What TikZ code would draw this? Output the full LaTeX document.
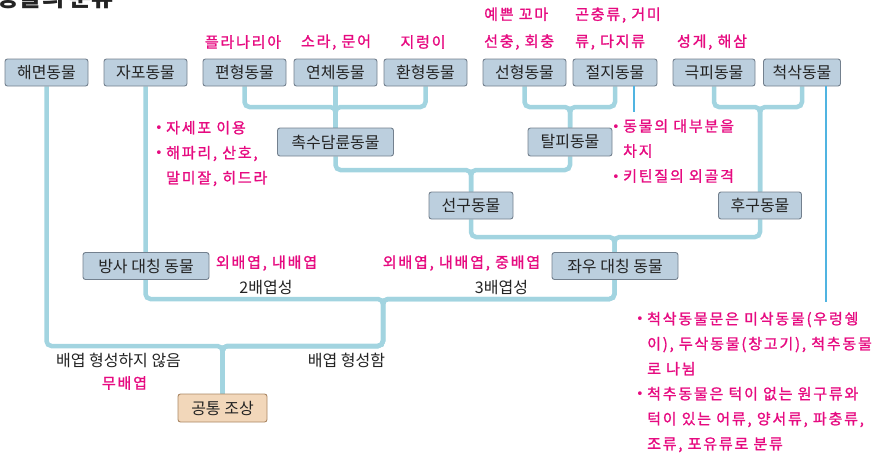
\documentclass[tikz,border=0pt]{standalone}
\usepackage{fontspec}
\setmainfont{Noto Sans CJK KR}
\newfontfamily\pinkfont[LetterSpace=12, FakeBold=1.3]{Noto Sans CJK KR}
\newfontfamily\symfont{DejaVu Sans}
\definecolor{boxfill}{RGB}{188,207,222}
\definecolor{boxline}{RGB}{115,128,142}
\definecolor{ancfill}{RGB}{242,215,186}
\definecolor{ancline}{RGB}{170,135,100}
\definecolor{treeblue}{RGB}{162,212,224}
\definecolor{leaderblue}{RGB}{80,180,225}
\definecolor{notepink}{RGB}{230,10,128}
\definecolor{darktext}{RGB}{35,35,35}
\newcommand\pbul{\makebox[11pt][l]{\symfont\fontsize{13}{13}\selectfont\raisebox{0.5pt}{•}}}
\pgfdeclarelayer{bg}
\pgfsetlayers{bg,main}
\begin{document}
\begin{tikzpicture}[x=1pt,y=-1pt,
  animal/.style={draw=boxline, fill=boxfill, rounded corners=2.5pt, line width=0.9pt,
    minimum height=27pt, inner sep=0pt, text=darktext, font=\fontsize{16}{18}\selectfont},
  ancestor/.style={animal, draw=ancline, fill=ancfill, minimum height=28pt},
  branch/.style={draw=treeblue, line width=4.5pt, rounded corners=5pt},
  leader/.style={draw=leaderblue, line width=1.1pt},
  note/.style={text=notepink, font=\pinkfont\fontsize{15}{25}\selectfont, inner sep=0pt},
  lab/.style={text=darktext, font=\fontsize{16}{18}\selectfont, inner sep=0pt}]
\useasboundingbox (0,0) rectangle (883,459);

% title (cut off at top, as in the reference)
\node[font=\fontsize{24}{24}\selectfont\bfseries, text=darktext, anchor=south east, inner sep=0pt] (title) at (114,9) {동물의 분류};

% boxes
\node[animal, minimum width=83pt] (haemyeon) at (46.5,72.5) {해면동물};
\node[animal, minimum width=83pt] (japo) at (145.5,72.5) {자포동물};
\node[animal, minimum width=83pt] (pyeonhyeong) at (244.5,72.5) {편형동물};
\node[animal, minimum width=83pt] (yeonche) at (335.5,72.5) {연체동물};
\node[animal, minimum width=83pt] (hwanhyeong) at (425.5,72.5) {환형동물};
\node[animal, minimum width=83pt] (seonhyeong) at (524.5,72.5) {선형동물};
\node[animal, minimum width=84pt] (jeolji) at (615,72.5) {절지동물};
\node[animal, minimum width=82pt] (geukpi) at (714,72.5) {극피동물};
\node[animal, minimum width=77pt] (cheoksak) at (802,72.5) {척삭동물};
\node[animal, minimum width=116pt, minimum height=28pt] (chosu) at (335.5,142) {촉수담륜동물};
\node[animal, minimum width=84pt, minimum height=28pt] (talpi) at (570,142) {탈피동물};
\node[animal, minimum width=84pt] (seongu) at (471,205.5) {선구동물};
\node[animal, minimum width=83pt] (hugu) at (760,205.5) {후구동물};
\node[animal, minimum width=126pt] (bangsa) at (146,266) {방사 대칭 동물};
\node[animal, minimum width=126pt] (jwau) at (615,266) {좌우 대칭 동물};
\node[ancestor, minimum width=89pt] (gongtong) at (222.5,408) {공통 조상};

% tree connectors
\begin{pgfonlayer}{bg}
\coordinate (j1) at (335.5,107);
\coordinate (j2) at (570,107);
\coordinate (j3) at (760,107);
\coordinate (j4) at (471,170);
\coordinate (j5) at (614.5,237);
\coordinate (j6) at (383,299);
\coordinate (j7) at (222.5,346);
\draw[branch] (pyeonhyeong.south) |- (j1) -- (chosu.north);
\draw[branch] (hwanhyeong.south) |- (j1) -- (chosu.north);
\draw[branch] (yeonche.south) -- (chosu.north);
\draw[branch] (seonhyeong.south) |- (j2) -- (talpi.north);
\draw[branch] (jeolji.south) |- (j2) -- (talpi.north);
\draw[branch] (geukpi.south) |- (j3) -- (hugu.north);
\draw[branch] (cheoksak.south) |- (j3) -- (hugu.north);
\draw[branch] (chosu.south) |- (j4) -- (seongu.north);
\draw[branch] (talpi.south) |- (j4) -- (seongu.north);
\draw[branch] (seongu.south) |- (j5) |- (j6) |- (j7) -- (gongtong.north);
\draw[branch] (hugu.south) |- (j5) |- (j6) |- (j7) -- (gongtong.north);
\draw[branch] (japo.south) |- (j6) |- (j7) -- (gongtong.north);
\draw[branch] (haemyeon.south) |- (j7) -- (gongtong.north);
\end{pgfonlayer}

% leader lines
\coordinate (t1) at (634,112);
\draw[leader] (t1 |- jeolji.south) -- (t1);
\coordinate (t2) at (826,302);
\draw[leader] (t2 |- cheoksak.south) -- (t2);

% pink notes
\node[note] (nplan) at (243,42) {플라나리아};
\node[note] (nmol) at (336,42) {소라, 문어};
\node[note] (nann) at (423,42) {지렁이};
\node[note, align=left, anchor=west] (nnem) at (484,28.5) {예쁜 꼬마\\[2pt]선충, 회충};
\node[note, align=left, anchor=west] (nart) at (575,28.5) {곤충류, 거미\\[2pt]류, 다지류};
\node[note] (nech) at (712,42) {성게, 해삼};
\node[note, align=left, anchor=west] (ncni) at (155,153.5) {\pbul 자세포 이용\\\pbul 해파리, 산호,\\\hspace*{11pt}말미잘, 히드라};
\node[note, align=left, anchor=west] (necd) at (612,151) {\pbul 동물의 대부분을\\\hspace*{11pt}차지\\\pbul 키틴질의 외골격};
\node[note, align=left, anchor=west] (ncho) at (636,382) {\pbul 척삭동물문은 미삭동물(우렁쉥\\\hspace*{11pt}이), 두삭동물(창고기), 척추동물\\\hspace*{11pt}로 나뉨\\\pbul 척추동물은 턱이 없는 원구류와\\\hspace*{11pt}턱이 있는 어류, 양서류, 파충류,\\\hspace*{11pt}조류, 포유류로 분류};
\node[note] (ndip) at (266.5,263) {외배엽, 내배엽};
\node[note] (ntri) at (461.5,263) {외배엽, 내배엽, 중배엽};
\node[note] (nno) at (124.5,383) {무배엽};

% dark labels
\node[lab] (ldip) at (266,287) {2배엽성};
\node[lab] (ltri) at (501.5,287) {3배엽성};
\node[lab] (lno) at (118.5,360) {배엽 형성하지 않음};
\node[lab] (lyes) at (346.5,360) {배엽 형성함};
\end{tikzpicture}
\end{document}
